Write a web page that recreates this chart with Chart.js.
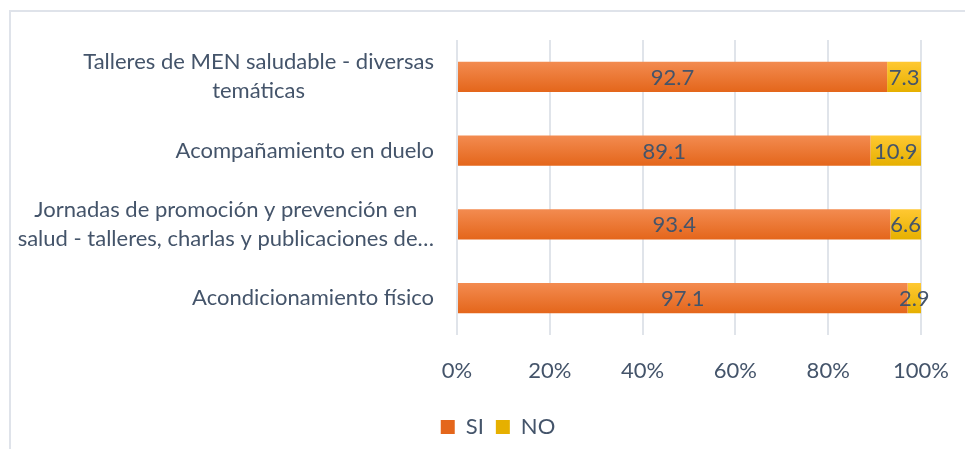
<!DOCTYPE html>
<html>
<head>
<meta charset="utf-8">
<script src="https://cdn.jsdelivr.net/npm/chart.js@4"></script>
<style>
    html, body { margin: 0; padding: 0; background: #fff; }
    #frame { position: absolute; left: 9px; top: 10px; right: 1px; bottom: 0; border-top: 2px solid #dfe3ea; border-left: 2px solid #dfe3ea; }
    #wrap { position: absolute; left: 0; top: 0; width: 966px; height: 449px; }
</style>
</head>
<body>
<div id="frame"></div>
<div id="wrap"><canvas id="myChart"></canvas></div>
<script>
// categorie (una riga per elemento dell'array interno)
const categories = [
    ["Talleres de MEN saludable - diversas", "temáticas"],
    ["Acompañamiento en duelo"],
    ["Jornadas de promoción y prevención en", "salud - talleres, charlas y publicaciones de…"],
    ["Acondicionamiento físico"],
];
const siValues = [92.7, 89.1, 93.4, 97.1];
const noValues = [7.3, 10.9, 6.6, 2.9];
const seriesNames = ["SI", "NO"];

const textColor = "#44546a";
const fontFamily = "Lato, 'Open Sans', sans-serif";
const fontSize = 22;

Chart.defaults.font.family = fontFamily;
Chart.defaults.font.size = fontSize;
Chart.defaults.color = textColor;

// gradiente verticale per ogni barra
function barFill(top, bottom, flat) {
    return (context) => {
        const chart = context.chart;
        const y = chart.scales.y;
        if (context.type !== "data" || !y || !chart.chartArea) return flat;
        const c = y.getPixelForValue(context.dataIndex);
        const g = chart.ctx.createLinearGradient(0, c - 15, 0, c + 15);
        g.addColorStop(0, top);
        g.addColorStop(1, bottom);
        return g;
    };
}

// etichette delle categorie: blocco allineato a destra, righe centrate
const categoryLabels = {
    id: "categoryLabels",
    afterDraw(chart) {
        const ctx = chart.ctx;
        const y = chart.scales.y;
        const right = chart.chartArea.left - 23;
        const lineHeight = 29;
        ctx.save();
        ctx.font = `${fontSize}px ${fontFamily}`;
        ctx.fillStyle = textColor;
        ctx.textAlign = "center";
        ctx.textBaseline = "middle";
        categories.forEach((lines, i) => {
            const c = y.getPixelForValue(i);
            const w = Math.max(...lines.map((l) => ctx.measureText(l).width));
            const cx = right - w / 2;
            lines.forEach((line, k) => {
                ctx.fillText(line, cx, c + (k - (lines.length - 1) / 2) * lineHeight);
            });
        });
        ctx.restore();
    },
};

// valori al centro di ogni segmento
const valueLabels = {
    id: "valueLabels",
    afterDatasetsDraw(chart) {
        const ctx = chart.ctx;
        ctx.save();
        ctx.font = `${fontSize}px ${fontFamily}`;
        ctx.fillStyle = textColor;
        ctx.textAlign = "center";
        ctx.textBaseline = "middle";
        chart.data.datasets.forEach((ds, di) => {
            chart.getDatasetMeta(di).data.forEach((bar, i) => {
                ctx.fillText(String(ds.data[i]), (bar.x + bar.base) / 2, bar.y + 1);
            });
        });
        ctx.restore();
    },
};

new Chart(document.getElementById("myChart"), {
    type: "bar",
    data: {
        labels: categories,
        datasets: [
            {
                label: seriesNames[0],
                data: siValues,
                backgroundColor: barFill("#f38b50", "#e4661b", "#ee7a35"),
                categoryPercentage: 1,
                barPercentage: 0.41,
            },
            {
                label: seriesNames[1],
                data: noValues,
                backgroundColor: barFill("#ffc832", "#e6b000", "#f8bf1c"),
                categoryPercentage: 1,
                barPercentage: 0.41,
            },
        ],
    },
    options: {
        indexAxis: "y",
        responsive: true,
        maintainAspectRatio: false,
        animation: false,
        layout: { padding: { left: 75, right: 45, top: 40, bottom: 1 } },
        scales: {
            x: {
                stacked: true,
                min: 0,
                max: 100,
                ticks: { stepSize: 20, padding: 23, callback: (v) => v + "%" },
                grid: { color: "#e0e4ea", lineWidth: 2, drawTicks: false },
                border: { display: false },
                afterFit: (scale) => {
                    scale.paddingLeft = 0;
                    scale.paddingRight = 0;
                    scale.height = 69;
                },
            },
            y: {
                stacked: true,
                ticks: { display: false },
                grid: { display: false },
                border: { display: false },
                afterFit: (scale) => { scale.width = 382; },
            },
        },
        plugins: {
            legend: {
                position: "bottom",
                labels: { boxWidth: 14, boxHeight: 14, padding: 12 },
            },
            tooltip: { enabled: false },
        },
    },
    plugins: [categoryLabels, valueLabels],
});
</script>
</body>
</html>
